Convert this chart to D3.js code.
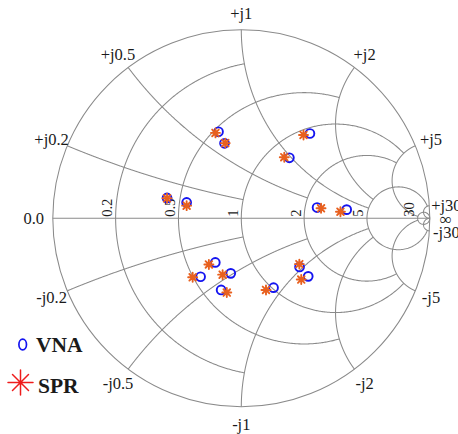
<!DOCTYPE html>
<html>
<head>
<meta charset="utf-8">
<script src="https://cdn.jsdelivr.net/npm/d3@7"></script>
<style>
  html, body { margin: 0; padding: 0; background: #fff; }
  svg { display: block; }
  text { font-family: "Liberation Serif", "Times New Roman", serif; fill: #1a1a1a; }
</style>
</head>
<body>
<svg id="chart" width="458" height="434"></svg>
<script>
// Reflection coefficient (S11) of each load, real and imaginary parts
const vnaRe = [-0.121, -0.089, 0.364, 0.255, -0.394, -0.290, 0.402, 0.559,
               -0.138, -0.216, -0.056, -0.107, 0.171, 0.309, 0.355];
const vnaIm = [0.459, 0.398, 0.450, 0.321, 0.108, 0.084, 0.057, 0.046,
               -0.234, -0.310, -0.292, -0.380, -0.368, -0.258, -0.308];
const sprRe = [-0.137, -0.085, 0.330, 0.228, -0.394, -0.290, 0.423, 0.526,
               -0.172, -0.258, -0.099, -0.077, 0.131, 0.308, 0.318];
const sprIm = [0.453, 0.399, 0.442, 0.324, 0.106, 0.067, 0.053, 0.035,
               -0.245, -0.313, -0.299, -0.394, -0.380, -0.243, -0.325];

// Grid values and the value at which each grid curve is clipped
const gridValues = [30, 5, 2, 1, 0.5, 0.2];
const gridLimits = [Infinity, 30, 5, 5, 2, 1];

// Resistance labels along the real axis, reactance labels round the rim
const resistanceLabels = ["0.2", "0.5", "1", "2", "5", "30"];
const reactanceLabels = ["+j0.2", "+j0.5", "+j1", "+j2", "+j5", "+j30",
                         "-j0.2", "-j0.5", "-j1", "-j2", "-j5", "-j30"];
const seriesNames = ["VNA", "SPR"];

const svg = d3.select("#chart");
const cx = 241.3, cy = 218.3, R = 188.5;
const sx = d3.scaleLinear().domain([-1, 1]).range([cx - R, cx + R]);
const sy = d3.scaleLinear().domain([-1, 1]).range([cy + R, cy - R]);

// impedance z = r + jx  ->  reflection coefficient
function gamma(r, x) {
  if (!isFinite(r) || !isFinite(x)) return [1, 0];
  const a = r - 1, b = x, c = r + 1, d = x;
  const den = c * c + d * d;
  return [(a * c + b * d) / den, (b * c - a * d) / den];
}
const line = d3.line().x(p => sx(p[0])).y(p => sy(p[1])).curve(d3.curveLinear);
const N = 600;
const gridStroke = "#8a8a8a";
const grid = svg.append("g").attr("fill", "none").attr("stroke", gridStroke).attr("stroke-width", 1.05);

// outer rim (r = 0)
grid.append("circle").attr("cx", sx(0)).attr("cy", sy(0)).attr("r", sx(1) - sx(0));
// real axis
grid.append("path").attr("d", line([[-1, 0], [1, 0]]));

gridValues.forEach((v, i) => {
  const lim = gridLimits[i];
  const tMax = isFinite(lim) ? Math.atan(lim) : Math.PI / 2 - 1e-6;
  // constant-resistance circle, clipped to |x| <= lim
  const rc = d3.range(N + 1).map(k => {
    const t = -tMax + (2 * tMax) * k / N;
    return gamma(v, Math.tan(t));
  });
  grid.append("path").attr("d", line(rc));
  // constant-reactance arcs, clipped to r <= lim
  [1, -1].forEach(sgn => {
    const xc = d3.range(N + 1).map(k => {
      const t = tMax * k / N;
      return gamma(Math.tan(t), sgn * v);
    });
    grid.append("path").attr("d", line(xc));
  });
});

// resistance labels, rotated, sitting just left of each circle's axis crossing
const labels = svg.append("g");
resistanceLabels.forEach(s => {
  const r = +s;
  const g0 = gamma(r, 0);
  const px = sx(g0[0]) - 3.5, py = sy(0) - 1.5;
  labels.append("text")
    .attr("transform", `translate(${px},${py}) rotate(-90)`)
    .attr("font-size", 14.5)
    .attr("text-anchor", "start")
    .text(s);
});

// rim labels
const rimR = R + 17;
function rimLabel(g, txt, dy) {
  const ang = Math.atan2(g[1], g[0]);
  labels.append("text")
    .attr("x", cx + rimR * Math.cos(ang))
    .attr("y", cy - rimR * Math.sin(ang) + dy)
    .attr("font-size", 16.5)
    .attr("text-anchor", "middle")
    .text(txt);
}
reactanceLabels.forEach(s => {
  const xv = +s.replace("j", "");
  rimLabel(gamma(0, xv), s, 6);
});
labels.append("text").attr("x", cx - R - 19).attr("y", cy + 6)
  .attr("font-size", 16.5).attr("text-anchor", "middle").text("0.0");
labels.append("text").attr("x", cx + R + 16).attr("y", cy + 7)
  .attr("font-size", 17).attr("text-anchor", "middle").text("\u221E");

// markers
const blue = "#1414f0";
const orange = "#e8601e";
const vna = vnaRe.map((u, i) => [u, vnaIm[i]]);
const spr = sprRe.map((u, i) => [u, sprIm[i]]);

svg.append("g").selectAll("circle").data(vna).join("circle")
  .attr("cx", d => sx(d[0])).attr("cy", d => sy(d[1])).attr("r", 4.4)
  .attr("fill", "none").attr("stroke", blue).attr("stroke-width", 1.9);

function star(g, x, y, r, rd, color, w) {
  const p = d3.path();
  p.moveTo(x - r, y); p.lineTo(x + r, y);
  p.moveTo(x, y - r); p.lineTo(x, y + r);
  p.moveTo(x - rd, y - rd); p.lineTo(x + rd, y + rd);
  p.moveTo(x - rd, y + rd); p.lineTo(x + rd, y - rd);
  g.append("path").attr("d", p.toString()).attr("stroke", color)
    .attr("stroke-width", w).attr("fill", "none").attr("stroke-linecap", "round");
}
const sg = svg.append("g");
spr.forEach(d => star(sg, sx(d[0]), sy(d[1]), 4.5, 3.3, orange, 1.9));

// legend
const lg = svg.append("g");
lg.append("ellipse").attr("cx", 22.7).attr("cy", 344.5).attr("rx", 3.8).attr("ry", 5.3)
  .attr("fill", "none").attr("stroke", blue).attr("stroke-width", 1.7);
lg.append("text").attr("x", 36).attr("y", 352).attr("font-size", 21.5)
  .attr("font-weight", "bold").text(seriesNames[0]);
star(lg, 20.5, 382.5, 12.5, 8, "#ee1c1c", 1.5);
lg.append("text").attr("x", 38).attr("y", 393).attr("font-size", 21.5)
  .attr("font-weight", "bold").text(seriesNames[1]);
</script>
</body>
</html>
